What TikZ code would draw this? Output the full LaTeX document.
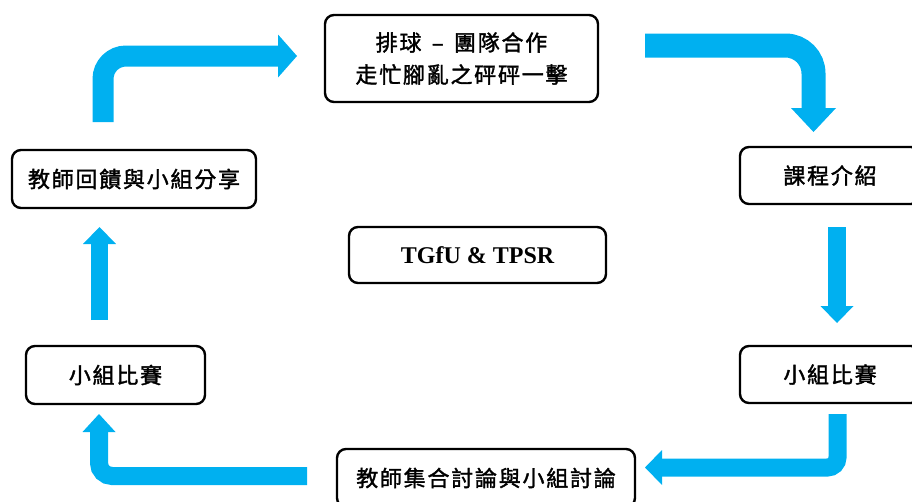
\documentclass[tikz,border=0pt]{standalone}
\usepackage{fontspec}
\setmainfont{Liberation Serif}
\newfontfamily\cjk{Noto Sans CJK TC}[LetterSpace=8,FakeBold=1.6]
\usetikzlibrary{arrows.meta}
\definecolor{arrowblue}{RGB}{0,176,240}
\begin{document}
\begin{tikzpicture}[x=1pt,y=-1pt,
  box/.style={draw=black, line width=2.4pt, rounded corners=9pt, fill=white,
    inner sep=0pt, align=center, font=\cjk\fontsize{22}{32}\selectfont},
  flow/.style={draw=arrowblue, line cap=butt}]
\useasboundingbox (0,0) rectangle (912,501);

\node[box, minimum width=273pt, minimum height=87pt] (top) at (461.5,58.5) {排球 \,–\, 團隊合作\\走忙腳亂之砰砰一擊};
\node[box, minimum width=180pt, minimum height=57pt] (intro) at (830,175.5) {課程介紹};
\node[box, minimum width=180pt, minimum height=57pt] (gameR) at (830,374.5) {小組比賽};
\node[box, minimum width=298pt, minimum height=58pt] (disc) at (486,478) {教師集合討論與小組討論};
\node[box, minimum width=179pt, minimum height=58pt] (gameL) at (115.5,375) {小組比賽};
\node[box, minimum width=244pt, minimum height=58pt] (feed) at (134,179) {教師回饋與小組分享};
\node[box, minimum width=257pt, minimum height=56pt, font=\bfseries\fontsize{24}{28}\selectfont] (tg) at (477.5,255) {TGfU \& TPSR};

\coordinate (a1s) at (103,122);   \coordinate (a1e) at (297,56);
\coordinate (a2s) at (645,45.5);  \coordinate (a2e) at (813.5,132);
\coordinate (a3s) at (837,227);   \coordinate (a3e) at (837,323);
\coordinate (a4s) at (837.5,414); \coordinate (a4e) at (645,467.5);
\coordinate (a5s) at (307,476);   \coordinate (a5e) at (99,414);
\coordinate (a6s) at (99.5,320);  \coordinate (a6e) at (99.5,227);

\draw[flow, line width=21pt, rounded corners=23pt,
  -{Triangle[length=19pt,width=43pt,line width=0pt]}] (a1s) |- (a1e);
\draw[flow, line width=24pt, rounded corners=28pt,
  -{Triangle[length=24pt,width=45pt,line width=0pt]}] (a2s) -| (a2e);
\draw[flow, line width=18pt,
  -{Triangle[length=17pt,width=33pt,line width=0pt]}] (a3s) -- (a3e);
\draw[flow, line width=18pt, rounded corners=10pt,
  -{Triangle[length=17pt,width=35pt,line width=0pt]}] (a4s) |- (a4e);
\draw[flow, line width=18pt, rounded corners=13pt,
  -{Triangle[length=18pt,width=33pt,line width=0pt]}] (a5s) -| (a5e);
\draw[flow, line width=17pt,
  -{Triangle[length=17pt,width=33pt,line width=0pt]}] (a6s) -- (a6e);
\end{tikzpicture}
\end{document}
